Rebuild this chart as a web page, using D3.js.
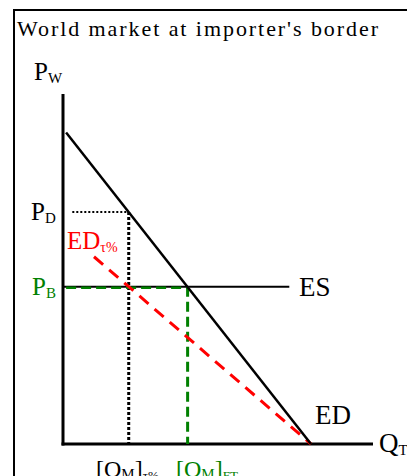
<!DOCTYPE html>
<html>
<head>
<meta charset="utf-8">
<script src="https://cdn.jsdelivr.net/npm/d3@7"></script>
<style>
  html, body { margin: 0; padding: 0; background: #fff; }
  svg { display: block; }
  text { font-family: "Liberation Serif", "Times New Roman", serif; }
</style>
</head>
<body>
<svg id="chart" width="407" height="476"></svg>
<script>
// Excess demand / excess supply at the importer's border (quantity vs. world price)
const edLine   = [{q: 1, p: 89}, {q: 80, p: 0}];      // excess demand ED
const edTau    = [{q: 10, p: 53.5}, {q: 80, p: 0}];   // ED shifted by an ad valorem tariff τ%
const esLine   = [{q: 0, p: 44.9}, {q: 73, p: 44.9}]; // flat excess supply ES
const priceD   = 66.3;   // P_D
const priceB   = 44.9;   // P_B
const qTariff  = 21.2;   // [Q_M]_τ%
const qFree    = 40.2;   // [Q_M]_FT

const svg = d3.select("#chart");

const x = d3.scaleLinear().domain([0, 100]).range([63, 373]);
const y = d3.scaleLinear().domain([0, 100]).range([444, 94]);
const line = d3.line().x(d => x(d.q)).y(d => y(d.p));

// frame
svg.append("path")
  .attr("d", "M14,476 L14,10 L407,10")
  .attr("fill", "none").attr("stroke", "#000").attr("stroke-width", 2);

svg.append("text")
  .attr("x", 17).attr("y", 36)
  .attr("font-size", 22)
  .attr("textLength", 361).attr("lengthAdjust", "spacing")
  .text("World market at importer's border");

// axes
svg.append("line")
  .attr("x1", x(0)).attr("y1", y(100)).attr("x2", x(0)).attr("y2", y(0) + 1.5)
  .attr("stroke", "#000").attr("stroke-width", 3);
svg.append("line")
  .attr("x1", x(0) - 1.5).attr("y1", y(0)).attr("x2", x(100)).attr("y2", y(0))
  .attr("stroke", "#000").attr("stroke-width", 3);

// guide lines at P_D / tariff quantity
svg.append("line")
  .attr("x1", x(3)).attr("y1", y(priceD)).attr("x2", x(qTariff)).attr("y2", y(priceD))
  .attr("stroke", "#000").attr("stroke-width", 2).attr("stroke-dasharray", "2,2");
svg.append("line")
  .attr("x1", x(qTariff)).attr("y1", y(priceD)).attr("x2", x(qTariff)).attr("y2", y(0))
  .attr("stroke", "#000").attr("stroke-width", 3).attr("stroke-dasharray", "3,2");

// ES
svg.append("path").datum(esLine).attr("d", line)
  .attr("fill", "none").attr("stroke", "#000").attr("stroke-width", 2);

// free-trade guides
svg.append("line")
  .attr("x1", x(1)).attr("y1", y(priceB) + 1).attr("x2", x(qFree)).attr("y2", y(priceB) + 1)
  .attr("stroke", "#008000").attr("stroke-width", 2.5).attr("stroke-dasharray", "10,5");
svg.append("line")
  .attr("x1", x(qFree)).attr("y1", y(priceB)).attr("x2", x(qFree)).attr("y2", y(0))
  .attr("stroke", "#008000").attr("stroke-width", 3).attr("stroke-dasharray", "10,5");

// ED with tariff
svg.append("path").datum(edTau).attr("d", line)
  .attr("fill", "none").attr("stroke", "#ff0000").attr("stroke-width", 3)
  .attr("stroke-dasharray", "12,8");

// ED
svg.append("path").datum(edLine).attr("d", line)
  .attr("fill", "none").attr("stroke", "#000").attr("stroke-width", 2.5);

// labels
function label(xp, yp, main, sub, color, size, subSize, dy) {
  const t = svg.append("text").attr("x", xp).attr("y", yp)
    .attr("font-size", size).attr("fill", color);
  t.append("tspan").text(main);
  if (sub) t.append("tspan").attr("font-size", subSize).attr("dy", dy).text(sub);
  return t;
}
label(34, 80, "P", "W", "#000", 25, 15, 3);
label(31, 220, "P", "D", "#000", 25, 15, 3);
label(32, 295, "P", "B", "#008000", 25, 15, 3);
label(67, 249, "ED", "τ%", "#ff0000", 25, 14, 3);
label(299, 296, "ES", null, "#000", 27);
label(315, 424, "ED", null, "#000", 27);
label(379, 452, "Q", "T", "#000", 27, 15, 3);

// quantity labels below the axis
function qLabel(xp, yp, sub, color) {
  const t = svg.append("text").attr("x", xp).attr("y", yp)
    .attr("font-size", 24).attr("fill", color);
  t.append("tspan").text("[Q");
  t.append("tspan").attr("font-size", 15).attr("dy", 2).text("M");
  t.append("tspan").attr("dy", -2).text("]");
  t.append("tspan").attr("font-size", 13).attr("dy", 3).text(sub);
}
qLabel(96, 477, "τ%", "#000");
qLabel(176, 477, "FT", "#008000");
</script>
</body>
</html>
